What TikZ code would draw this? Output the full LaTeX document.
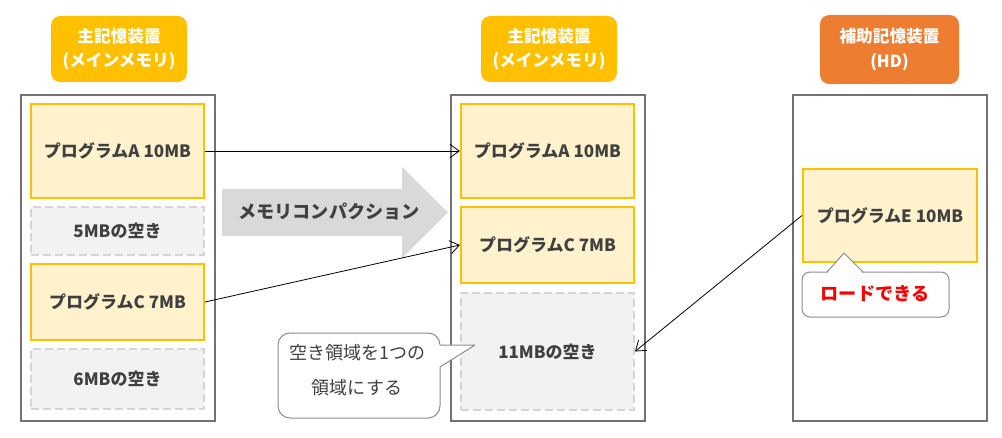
\documentclass[tikz,border=0pt]{standalone}
\usepackage{fontspec}
\setmainfont{Noto Sans CJK JP}
\usetikzlibrary{fit,arrows.meta}
\definecolor{cYel}{HTML}{FFC000}
\definecolor{cLYel}{HTML}{FFF2CC}
\definecolor{cOrg}{HTML}{ED7D31}
\definecolor{cCont}{HTML}{767171}
\definecolor{cFree}{HTML}{F2F2F2}
\definecolor{cFreeB}{HTML}{D5D5D5}
\definecolor{cArr}{HTML}{D9D9D9}
\definecolor{cTxt}{HTML}{404040}
\definecolor{cCall}{HTML}{8C8C8C}
\definecolor{cRed}{HTML}{FF0000}
\begin{document}
\begin{tikzpicture}[x=0.75pt,y=-0.75pt,
  lab/.style={inner sep=0pt, rounded corners=7pt},
  labtext/.style={text=white, align=center, inner sep=0pt,
    font=\bfseries\fontsize{12.5}{18.5}\selectfont},
  cont/.style={inner sep=0pt, draw=cCont, line width=1.5pt},
  prog/.style={inner sep=0pt, draw=cYel, fill=cLYel, line width=1.6pt},
  free/.style={inner sep=0pt, draw=cFreeB, fill=cFree, line width=1.5pt,
    dash pattern=on 6pt off 3pt},
  btext/.style={text=cTxt, inner sep=0pt, font=\bfseries\fontsize{12.75}{15}\selectfont},
  arr/.style={line width=0.6pt, -{Straight Barb[length=7pt,width=10pt,line width=0.6pt]}},
  callout/.style={draw=cCall, fill=white, line width=0.75pt},
  ctext/.style={text=cTxt, align=center, font=\fontsize{13.5}{26}\selectfont}
]
\path[use as bounding box] (0,0) rectangle (1002,438);

% header labels
\node[lab, fill=cYel, fit={(51,16)(187,82)}] (labL) {};
\node[labtext] (labLt) at (labL.center) {主記憶装置\\(メインメモリ)};
\node[lab, fill=cYel, fit={(481,16)(617,82)}] (labM) {};
\node[labtext] (labMt) at (labM.center) {主記憶装置\\(メインメモリ)};
\node[lab, fill=cOrg, fit={(820,15)(959,84)}] (labR) {};
\node[labtext] (labRt) at (labR.center) {補助記憶装置\\(HD)};

% containers
\node[cont, fit={(21,95)(215,421)}] (contL) {};
\node[cont, fit={(451,95)(645,421)}] (contM) {};
\node[cont, fit={(793,95)(987,421)}] (contR) {};

% left memory
\node[prog, fit={(31,104)(204,198)}] (pA) {};
\node[btext] (pAt) at (pA.center) {プログラムA 10MB};
\node[free, fit={(31,207)(204,255)}] (f5) {};
\node[btext] (f5t) at (f5.center) {5MBの空き};
\node[prog, fit={(31,264)(204,340)}] (pC) {};
\node[btext] (pCt) at (pC.center) {プログラムC 7MB};
\node[free, fit={(31,349)(204,409)}] (f6) {};
\node[btext] (f6t) at (f6.center) {6MBの空き};

% middle memory
\node[prog, fit={(461,104)(634,198)}] (pA2) {};
\node[btext] (pA2t) at (pA2.center) {プログラムA 10MB};
\node[prog, fit={(461,207)(634,283)}] (pC2) {};
\node[btext] (pC2t) at (pC2.center) {プログラムC 7MB};
\node[free, fit={(461,293)(634,410)}] (f11) {};
\node[btext] (f11t) at (f11.center) {11MBの空き};

% right storage
\node[prog, fit={(803,169)(977,262)}] (pE) {};
\node[btext] (pEt) at (pE.center) {プログラムE 10MB};

% block arrow
\fill[cArr] (222,189) -- (402,189) -- (402,167) -- (448,212.5) -- (402,258) -- (402,236) -- (222,236) -- cycle;
\node[text=cTxt, font=\bfseries\fontsize{13.6}{15}\selectfont] (mc) at (329,212) {メモリコンパクション};

% callout 1
\draw[callout, rounded corners=9pt] (278,333) rectangle (440,418);
\fill[white] (437,345) -- (475,345) -- (440,367) -- (437,367) -- cycle;
\draw[cCall, line width=0.75pt, line join=round] (440,345) -- (475,345) -- (440,367);
\node[ctext] (ct) at (357,370) {空き領域を1つの\\領域にする};

% callout 2
\draw[callout, rounded corners=6pt] (802,272) rectangle (949,317);
\fill[white] (827,274) -- (844,253) -- (863,274) -- cycle;
\draw[cCall, line width=0.75pt, line join=round] (827,272) -- (844,253) -- (863,272);
\node[text=cRed, font=\bfseries\fontsize{13.6}{15}\selectfont] (load) at (875,294) {ロードできる};

% connectors
\draw[arr] (pA.east) -- (pA2.west);
\draw[arr] (pC.east) -- (pC2.west);
\draw[arr] (pE.west) -- (f11.east);
\end{tikzpicture}
\end{document}
